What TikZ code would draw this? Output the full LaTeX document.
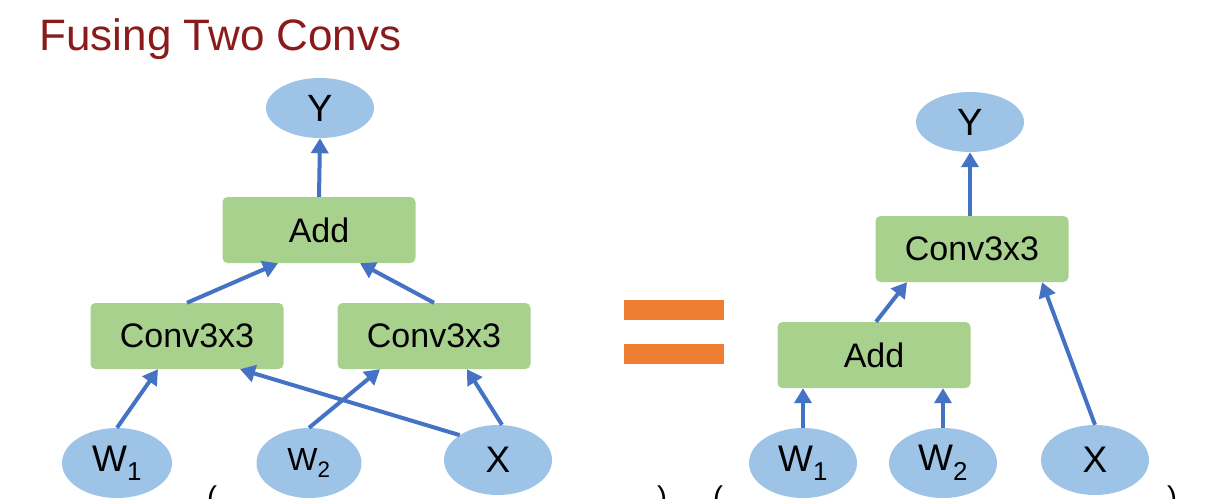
\documentclass[tikz,border=0pt]{standalone}
\usepackage{fontspec}
\setmainfont{Liberation Sans}
\usetikzlibrary{shapes.geometric,arrows.meta}
\definecolor{nb}{HTML}{9DC3E6}
\definecolor{ng}{HTML}{A9D18E}
\definecolor{eb}{HTML}{4472C4}
\definecolor{or}{HTML}{ED7D31}
\definecolor{tr}{HTML}{8B1A1A}
\begin{document}
\begin{tikzpicture}[x=1pt,y=-1pt,
 el/.style={ellipse,fill=nb,draw=none,inner sep=0pt},
 bx/.style={rectangle,rounded corners=5pt,fill=ng,draw=none,minimum width=193pt,minimum height=66pt,font=\fontsize{34}{36}\selectfont},
 a/.style={draw=eb,line width=4pt,-{Triangle[length=15pt,width=17pt]}}]
\useasboundingbox (0,0) rectangle (1206,498);
\node[anchor=base west,text=tr,font=\fontsize{44}{48}\selectfont] (t) at (36,50) {Fusing Two Convs};
% left
\node[el,minimum width=108pt,minimum height=60pt,font=\fontsize{38}{40}\selectfont] (y1) at (320,108) {Y};
\node[bx] (add1) at (319,230) {Add};
\node[bx] (cl) at (187,336) {Conv3x3};
\node[bx] (cr) at (434,336) {Conv3x3};
\node[el,minimum width=110pt,minimum height=70pt,font=\fontsize{37}{38}\selectfont] (w1) at (117,463) {W\textsubscript{1}};
\node[el,minimum width=105pt,minimum height=70pt,font=\fontsize{32}{34}\selectfont] (w2) at (309,463) {W\textsubscript{2}};
\node[el,minimum width=108pt,minimum height=70pt,font=\fontsize{37}{38}\selectfont] (x1) at (498,460) {X};
\draw[a] (add1.north) -- (y1.south);
\draw[a] (cl.north) -- ([xshift=-41pt]add1.south);
\draw[a] (cr.north) -- ([xshift=41pt]add1.south);
\draw[a] (w1.north) -- ([xshift=-29pt]cl.south);
\draw[a] ([xshift=4pt]x1.north) -- ([xshift=33pt]cr.south);
\draw[a] (x1.north west) -- ([xshift=53pt]cl.south);
\draw[a] (w2.north) -- ([xshift=-54pt]cr.south);
% equals
\node[fill=or,minimum width=100pt,minimum height=20pt,inner sep=0pt] (e1) at (674,310) {};
\node[fill=or,minimum width=100pt,minimum height=20pt,inner sep=0pt] (e2) at (674,354) {};
% right
\node[el,minimum width=108pt,minimum height=60pt,font=\fontsize{38}{40}\selectfont] (y2) at (970,122) {Y};
\node[bx] (c2) at (972,249) {Conv3x3};
\node[bx] (add2) at (874,355) {Add};
\node[el,minimum width=108pt,minimum height=70pt,font=\fontsize{37}{38}\selectfont] (w1b) at (803,463) {W\textsubscript{1}};
\node[el,minimum width=108pt,minimum height=70pt,font=\fontsize{37}{38}\selectfont] (w2b) at (943,463) {W\textsubscript{2}};
\node[el,minimum width=108pt,minimum height=70pt,font=\fontsize{37}{38}\selectfont] (x2) at (1095,460) {X};
\draw[a] ([xshift=-2pt]c2.north) -- (y2.south);
\draw[a] ([xshift=2pt]add2.north) -- ([xshift=-65pt]c2.south);
\draw[a] (x2.north) -- ([xshift=70pt]c2.south);
\draw[a] (w1b.north) -- (add2.south -| w1b.north);
\draw[a] (w2b.north) -- (add2.south -| w2b.north);
% parens (clipped at bottom edge, as in the reference)
\node[font=\fontsize{30}{32}\selectfont,anchor=north] (p1) at (212,482) {(};
\node[font=\fontsize{30}{32}\selectfont,anchor=north] (p2) at (662,482) {)};
\node[font=\fontsize{30}{32}\selectfont,anchor=north] (p3) at (718,482) {(};
\node[font=\fontsize{30}{32}\selectfont,anchor=north] (p4) at (1172,482) {)};
\end{tikzpicture}
\end{document}
